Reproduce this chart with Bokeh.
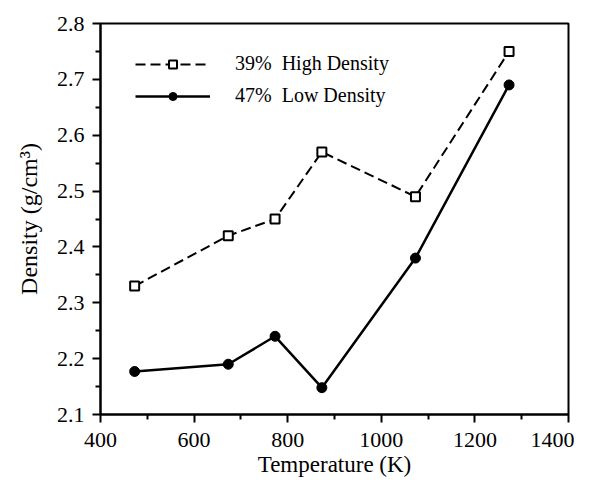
from bokeh.plotting import figure
from bokeh.models import Range1d, Legend, LegendItem, FixedTicker
from bokeh.embed import file_html
from bokeh.resources import INLINE

temperature = [473, 673, 773, 873, 1073, 1273]
high_density = [2.33, 2.42, 2.45, 2.57, 2.49, 2.75]
low_density = [2.177, 2.19, 2.24, 2.148, 2.38, 2.69]
x_ticks = [400, 600, 800, 1000, 1200, 1400]
y_ticks = [2.1, 2.2, 2.3, 2.4, 2.5, 2.6, 2.7, 2.8]

FONT = "Liberation Serif"

p = figure(width=574, height=484, output_backend="svg", toolbar_location=None,
           x_range=Range1d(400, 1400), y_range=Range1d(2.1, 2.8),
           min_border_left=100, min_border_right=6, min_border_top=23, min_border_bottom=70)
p.grid.visible = False
p.outline_line_color = "black"
p.outline_line_width = 2
p.background_fill_color = "white"
p.border_fill_color = "white"

p.xaxis.ticker = FixedTicker(ticks=x_ticks, minor_ticks=[500, 700, 900, 1100, 1300])
p.yaxis.ticker = FixedTicker(ticks=y_ticks, minor_ticks=[2.15, 2.25, 2.35, 2.45, 2.55, 2.65, 2.75])
for ax in (p.xaxis[0], p.yaxis[0]):
    ax.axis_line_width = 2
    ax.axis_line_color = "black"
    ax.major_tick_line_width = 2
    ax.minor_tick_line_width = 2
    ax.major_tick_line_color = "black"
    ax.minor_tick_line_color = "black"
    ax.major_tick_out = 8
    ax.major_tick_in = 0
    ax.minor_tick_out = 5
    ax.minor_tick_in = 0
    ax.major_label_text_font = FONT
    ax.major_label_text_font_size = "22px"
    ax.major_label_text_color = "black"
    ax.axis_label_text_font = FONT
    ax.axis_label_text_font_style = "normal"
    ax.axis_label_text_color = "black"
p.xaxis.axis_label = "Temperature (K)"
p.yaxis.axis_label = "Density (g/cm³)"
p.xaxis.axis_label_text_font_size = "23px"
p.yaxis.axis_label_text_font_size = "24px"
p.xaxis.major_label_standoff = 10
p.yaxis.major_label_standoff = 8
p.xaxis.axis_label_standoff = 2
p.yaxis.axis_label_standoff = 12

l1 = p.line(temperature, high_density, line_color="black", line_width=2, line_dash="10 5")
m1 = p.scatter(temperature, high_density, marker="square", size=9, fill_color="white",
               line_color="black", line_width=2)
l2 = p.line(temperature, low_density, line_color="black", line_width=2.5)
m2 = p.scatter(temperature, low_density, marker="circle", size=10, fill_color="black",
               line_color="black")

legend = Legend(items=[LegendItem(label="39%  High Density", renderers=[l1, m1]),
                       LegendItem(label="47%  Low Density", renderers=[l2, m2])],
                location=(35, 307), border_line_color=None, background_fill_alpha=0,
                padding=0, margin=0, spacing=9, glyph_width=75, glyph_height=20,
                label_height=20, label_standoff=25, label_text_font=FONT,
                label_text_font_size="20px", label_text_color="black")
p.add_layout(legend)

open("out.html", "w").write(file_html(p, INLINE))
